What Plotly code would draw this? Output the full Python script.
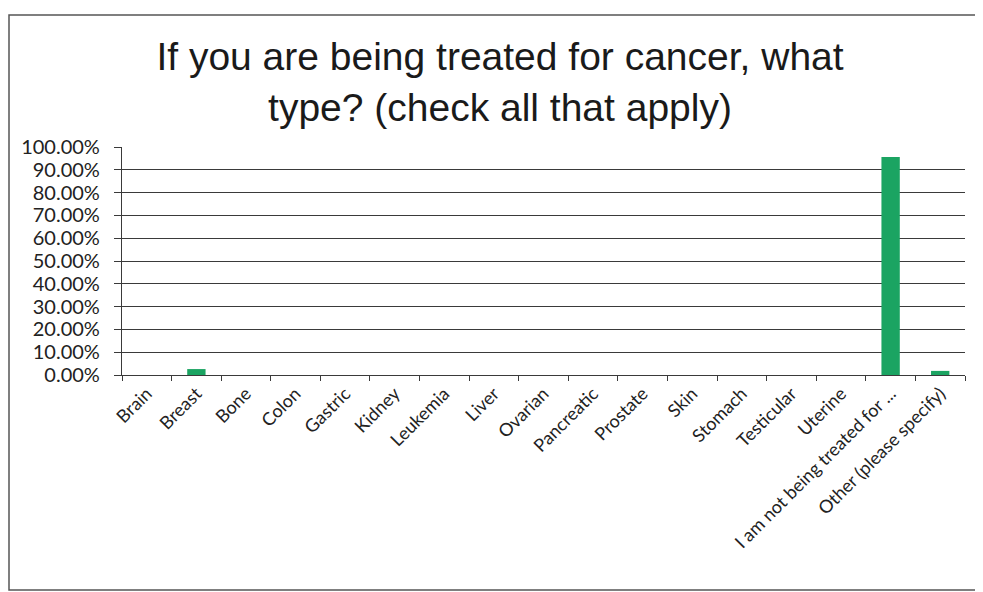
import plotly.graph_objects as go

categories = ["Brain", "Breast", "Bone", "Colon", "Gastric", "Kidney", "Leukemia",
              "Liver", "Ovarian", "Pancreatic", "Prostate", "Skin", "Stomach",
              "Testicular", "Uterine", "I am not being treated for ...",
              "Other (please specify)"]
values = [0.0, 0.026, 0.0, 0.0, 0.0, 0.0, 0.0, 0.0, 0.0, 0.0, 0.0, 0.0, 0.0,
          0.0, 0.0, 0.956, 0.018]
tick_vals = [0, 0.1, 0.2, 0.3, 0.4, 0.5, 0.6, 0.7, 0.8, 0.9, 1.0]
tick_text = ["0.00%", "10.00%", "20.00%", "30.00%", "40.00%", "50.00%",
             "60.00%", "70.00%", "80.00%", "90.00%", "100.00%"]

# page is offset by the default 8px body margin
OFF = 8
W, H = 983 - OFF, 592 - OFF
ml, mr, mt, mb = 122 - OFF, 18, 147 - OFF, 217
pw, ph = W - ml - mr, H - mt - mb

def px_x(x):  # page x -> paper
    return (x - OFF - ml) / pw

def px_y(y):  # page y -> paper
    return (H - mb - (y - OFF)) / ph

fig = go.Figure(go.Bar(x=categories, y=values, marker_color="#1BA462",
                       marker_line_width=0))

fig.update_layout(
    width=W, height=H,
    margin=dict(l=ml, r=mr, t=mt, b=mb),
    paper_bgcolor="white", plot_bgcolor="white",
    bargap=0.63,
    showlegend=False,
    title=dict(text="If you are being treated for cancer, what<br>type? (check all that apply)",
               x=(500 - OFF) / W, xanchor="center", xref="container",
               y=1 - (70 - OFF) / H, yanchor="middle", yref="container",
               font=dict(family="Liberation Sans, Arial", size=39, color="#1a1a1a")),
    font=dict(family="Lato, Open Sans, sans-serif", size=14, color="#222"),
    shapes=[
        dict(type="rect", xref="paper", yref="paper",
             x0=px_x(9), x1=px_x(980), y0=px_y(590), y1=px_y(15),
             line=dict(color="#555", width=1.5), layer="below"),
    ],
)

fig.update_yaxes(range=[0, 1.0], tickvals=tick_vals, ticktext=tick_text,
                 showgrid=True, gridcolor="#3a3a3a", gridwidth=1.2,
                 showline=True, linecolor="#3a3a3a", linewidth=1.2,
                 ticks="outside", ticklen=7, tickcolor="#3a3a3a",
                 ticklabelstandoff=10,
                 zeroline=False, tickfont=dict(size=20))
fig.update_xaxes(tickangle=-45, showline=True, linecolor="#3a3a3a", linewidth=1.2,
                 ticks="outside", ticklen=5, tickcolor="#3a3a3a",
                 tickson="boundaries", tickfont=dict(size=18))

fig.write_html("out.html")
